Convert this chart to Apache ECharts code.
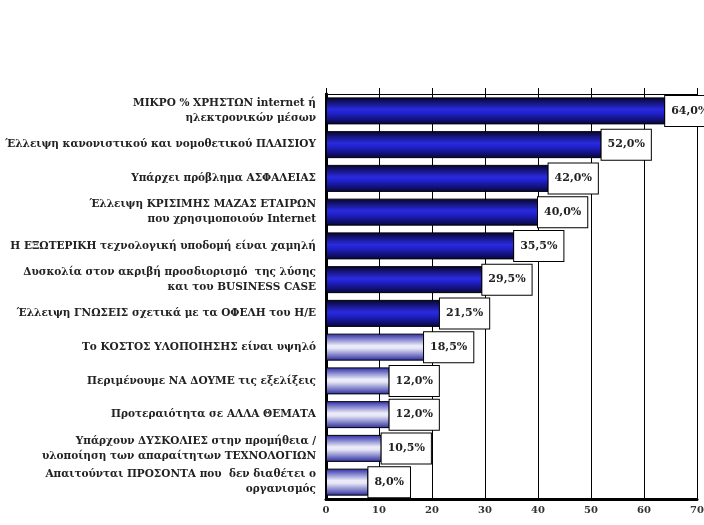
<!DOCTYPE html>
<html>
<head>
<meta charset="utf-8">
<script src="https://cdn.jsdelivr.net/npm/echarts@6/dist/echarts.min.js"></script>
<style>
  html, body { margin: 0; padding: 0; background: #fff; }
  #chart { width: 704px; height: 525px; }
</style>
</head>
<body>
<div id="chart"></div>
<script>
  // categories, top to bottom
  const categories = [
    'ΜΙΚΡΟ % ΧΡΗΣΤΩΝ internet ή\nηλεκτρονικών μέσων',
    'Έλλειψη κανονιστικού και νομοθετικού ΠΛΑΙΣΙΟΥ',
    'Υπάρχει πρόβλημα ΑΣΦΑΛΕΙΑΣ',
    'Έλλειψη ΚΡΙΣΙΜΗΣ ΜΑΖΑΣ ΕΤΑΙΡΩΝ\nπου χρησιμοποιούν Internet',
    'Η ΕΞΩΤΕΡΙΚΗ τεχνολογική υποδομή είναι χαμηλή',
    'Δυσκολία στον ακριβή προσδιορισμό  της λύσης\nκαι του BUSINESS CASE',
    'Έλλειψη ΓΝΩΣΕΙΣ σχετικά με τα ΟΦΕΛΗ του Η/Ε',
    'Το ΚΟΣΤΟΣ ΥΛΟΠΟΙΗΣΗΣ είναι υψηλό',
    'Περιμένουμε ΝΑ ΔΟΥΜΕ τις εξελίξεις',
    'Προτεραιότητα σε ΑΛΛΑ ΘΕΜΑΤΑ',
    'Υπάρχουν ΔΥΣΚΟΛΙΕΣ στην προμήθεια /\nυλοποίηση των απαραίτητων ΤΕΧΝΟΛΟΓΙΩΝ',
    'Απαιτούνται ΠΡΟΣΟΝΤΑ που  δεν διαθέτει ο\nοργανισμός'
  ]
  const values = [64.0, 52.0, 42.0, 40.0, 35.5, 29.5, 21.5, 18.5, 12.0, 12.0, 10.5, 8.0]
  // first 7 bars are dark, the rest light
  const darkCount = 7
  const xTicks = [0, 10, 20, 30, 40, 50, 60, 70]

  const serif = '"DejaVu Serif", "Liberation Serif", serif'

  const darkFill = new echarts.graphic.LinearGradient(0, 0, 0, 1, [
    { offset: 0, color: '#05052a' },
    { offset: 0.45, color: '#2a2ae0' },
    { offset: 0.6, color: '#2020c8' },
    { offset: 1, color: '#06063a' }
  ])
  const lightFill = new echarts.graphic.LinearGradient(0, 0, 0, 1, [
    { offset: 0, color: '#2a2aa8' },
    { offset: 0.45, color: '#eeeefa' },
    { offset: 0.55, color: '#e4e4f6' },
    { offset: 1, color: '#2a2aa0' }
  ])

  const chart = echarts.init(document.getElementById('chart'))

  chart.setOption({
    backgroundColor: '#fff',
    animation: false,
    grid: {
      left: 326,
      right: 7,
      top: 94,
      bottom: 26,
      containLabel: false,
      outerBoundsMode: 'none'
    },
    xAxis: [
      {
        type: 'value',
        min: 0,
        max: 70,
        interval: 10,
        position: 'bottom',
        axisLine: { show: true, lineStyle: { color: '#000', width: 3 } },
        axisTick: { show: false },
        splitLine: { show: true, lineStyle: { color: '#000', width: 1 } },
        axisLabel: {
          color: '#333',
          fontFamily: serif,
          fontWeight: 'bold',
          fontSize: 10,
          margin: 6,
          formatter: v => (xTicks.indexOf(v) >= 0 ? String(v) : '')
        }
      },
      {
        type: 'value',
        min: 0,
        max: 70,
        interval: 10,
        position: 'top',
        axisLine: { show: true, lineStyle: { color: '#000', width: 1 } },
        axisTick: { show: true, length: 6, lineStyle: { color: '#000' } },
        splitLine: { show: false },
        axisLabel: { show: false }
      }
    ],
    yAxis: [
      {
        type: 'category',
        data: categories,
        inverse: true,
        axisLine: { show: true, lineStyle: { color: '#111', width: 2 } },
        axisTick: { show: false },
        axisLabel: {
          color: '#222',
          fontFamily: serif,
          fontWeight: 'bold',
          fontSize: 10.5,
          lineHeight: 15,
          margin: 10,
          align: 'right'
        }
      },
      {
        type: 'category',
        data: categories,
        inverse: true,
        position: 'right',
        axisLine: { show: true, lineStyle: { color: '#000', width: 3 } },
        axisTick: { show: false },
        axisLabel: { show: false }
      }
    ],
    series: [
      {
        type: 'bar',
        xAxisIndex: 0,
        yAxisIndex: 0,
        barWidth: 27,
        data: values.map((v, i) => ({
          value: v,
          itemStyle: { color: i < darkCount ? darkFill : lightFill }
        })),
        itemStyle: { borderColor: '#000', borderWidth: 1 },
        label: {
          show: true,
          position: 'right',
          distance: 0,
          formatter: p => p.value.toFixed(1).replace('.', ',') + '%',
          fontFamily: serif,
          fontWeight: 'bold',
          fontSize: 11,
          color: '#222',
          backgroundColor: '#fff',
          borderColor: '#000',
          borderWidth: 1,
          padding: [10, 6, 9, 6]
        }
      }
    ]
  })
</script>
</body>
</html>
